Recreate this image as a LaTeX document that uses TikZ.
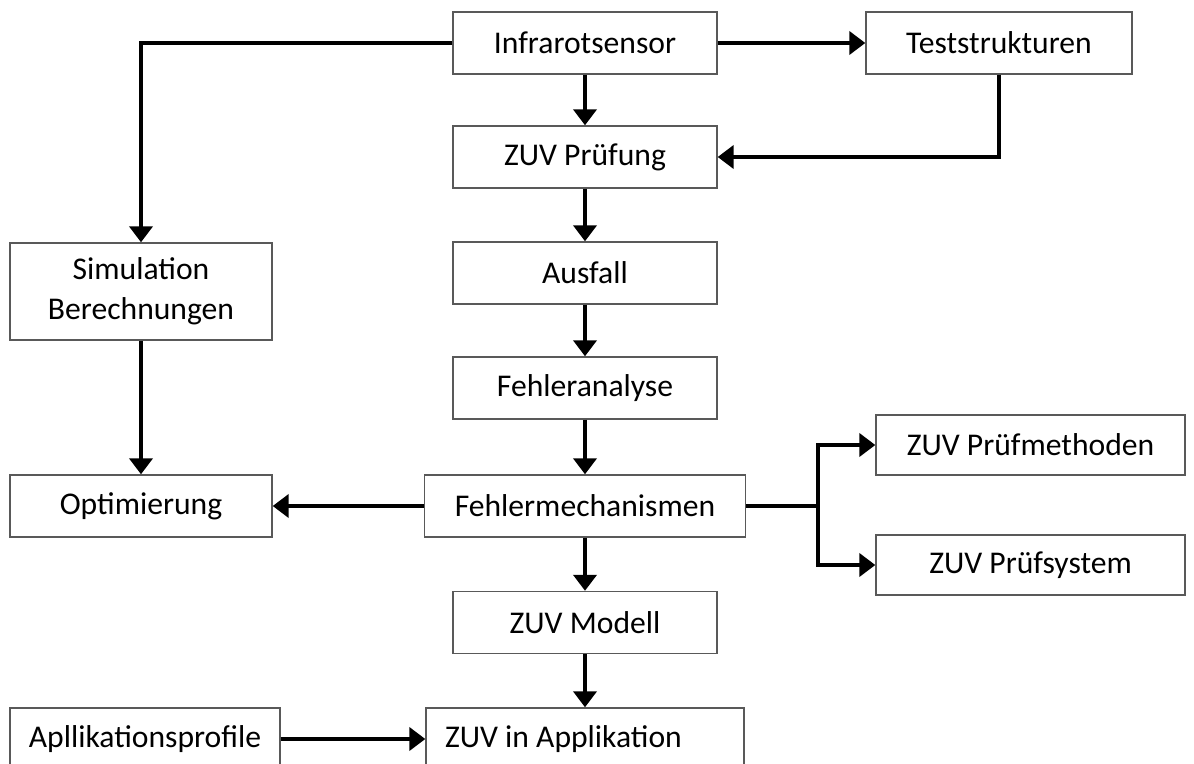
\documentclass[tikz,border=0pt]{standalone}
\usepackage{fontspec}
\setmainfont{Carlito}
\usetikzlibrary{arrows.meta}

\tikzset{
    kasten/.style={draw=black!65, line width=0.8pt, fill=white, align=center,
        inner sep=0pt, minimum height=1.24cm, font=\fontsize{18}{23}\selectfont},
    pfeil/.style={line width=2.2pt, -{Triangle[width=0.46cm, length=0.32cm]}},
    linie/.style={line width=2.2pt}
}

\begin{document}
\begin{tikzpicture}[x=0.02cm, y=-0.02cm]
    % --- Rahmen ---
    \useasboundingbox (0, 0) rectangle (1194, 764);

    % --- Mittlere Spalte ---
    \node[kasten, minimum width=5.28cm] (infra)   at (585, 43)    {Infrarotsensor};
    \node[kasten, minimum width=5.28cm] (pruef)   at (585, 157)   {ZUV Prüfung};
    \node[kasten, minimum width=5.28cm] (ausfall) at (585, 273)   {Ausfall};
    \node[kasten, minimum width=5.28cm] (analyse) at (585, 388)   {Fehleranalyse};
    \node[kasten, minimum width=6.42cm] (mech)    at (585, 506)   {Fehlermechanismen};
    \node[kasten, minimum width=5.28cm] (modell)  at (585, 622.5) {ZUV Modell};
    \node[kasten, minimum height=1.24cm, text width=5.6cm, inner xsep=0.38cm, align=flush left]
        (appl) at (585, 739) {ZUV in Applikation};

    % --- Linke Spalte ---
    \node[kasten, minimum width=5.24cm, minimum height=1.94cm] (sim) at (141, 291.5)
        {Simulation\\Berechnungen};
    \node[kasten, minimum width=5.24cm] (opt)     at (141, 506)   {Optimierung};
    \node[kasten, minimum width=5.40cm] (profil)  at (145, 739)   {Apllikationsprofile};

    % --- Rechte Spalte ---
    \node[kasten, minimum width=5.32cm] (test)    at (999, 43)    {Teststrukturen};
    \node[kasten, minimum width=6.18cm, minimum height=1.2cm] (methoden) at (1030.5, 445) {ZUV Prüfmethoden};
    \node[kasten, minimum width=6.18cm, minimum height=1.2cm] (system)   at (1030.5, 565) {ZUV Prüfsystem};

    % --- Verbindungen ---
    \draw[pfeil] (infra.west) -| (sim.north);
    \draw[pfeil] (infra) -- (test);
    \draw[pfeil] (infra) -- (pruef);
    \draw[pfeil] (test.south) |- (pruef.east);
    \draw[pfeil] (pruef) -- (ausfall);
    \draw[pfeil] (ausfall) -- (analyse);
    \draw[pfeil] (analyse) -- (mech);
    \draw[pfeil] (mech) -- (modell);
    \draw[pfeil] (modell) -- (appl);
    \draw[pfeil] (sim) -- (opt);
    \draw[pfeil] (mech) -- (opt);
    \draw[pfeil] (profil) -- (appl);

    % Verzweigung rechts
    \coordinate (zweig) at (818, 506);
    \draw[linie] (mech.east) -- (zweig);
    \draw[pfeil] (zweig) |- (methoden.west);
    \draw[pfeil] (zweig) |- (system.west);
\end{tikzpicture}
\end{document}
